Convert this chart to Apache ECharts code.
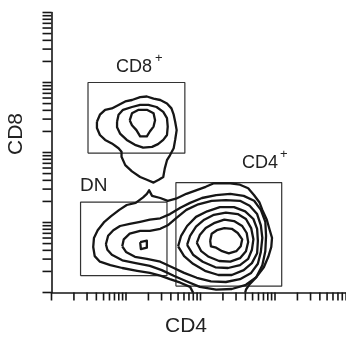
<!DOCTYPE html>
<html>
<head>
<meta charset="utf-8">
<script src="https://cdn.jsdelivr.net/npm/echarts@6/dist/echarts.min.js"></script>
<style>
  html, body { margin: 0; padding: 0; background: #fff; }
  #main { width: 346px; height: 337px; }
</style>
</head>
<body>
<div id="main"></div>
<script>
// axes are log10 of fluorescence (decades 10^0 .. 10^4)
var decades = [0, 1, 2, 3];
var tickMultipliers = [1, 2, 3, 4, 5, 6, 7, 8, 9];

// gates [xMin, xMax, yMin, yMax]
var gateCD8 = [0.49, 1.79, 1.99, 3.0];
var gateDN = [0.39, 1.55, 0.24, 1.29];
var gateCD4 = [1.67, 3.09, 0.09, 1.57];

// CD8+ population contours
var cd8Outer = [[0.61,2.44],[0.65,2.54],[0.72,2.61],[0.81,2.63],[0.90,2.68],[0.99,2.73],[1.08,2.75],[1.19,2.79],[1.28,2.80],[1.37,2.77],[1.46,2.75],[1.55,2.70],[1.61,2.63],[1.64,2.54],[1.66,2.44],[1.68,2.32],[1.66,2.18],[1.64,2.06],[1.59,1.96],[1.55,1.89],[1.52,1.77],[1.50,1.65],[1.44,1.61],[1.37,1.57],[1.28,1.61],[1.19,1.65],[1.08,1.73],[0.99,1.82],[0.94,1.94],[0.94,2.01],[0.90,2.06],[0.81,2.13],[0.72,2.18],[0.65,2.25],[0.61,2.35]];
var cd8Mid = [[0.88,2.44],[0.90,2.54],[0.96,2.61],[1.08,2.65],[1.19,2.68],[1.30,2.68],[1.41,2.65],[1.50,2.58],[1.55,2.49],[1.56,2.37],[1.55,2.25],[1.50,2.18],[1.43,2.12],[1.35,2.08],[1.23,2.07],[1.12,2.11],[1.01,2.18],[0.92,2.27],[0.88,2.36]];
var cd8Inner = [[1.05,2.46],[1.08,2.56],[1.17,2.61],[1.28,2.61],[1.37,2.56],[1.39,2.46],[1.37,2.37],[1.32,2.30],[1.28,2.23],[1.19,2.23],[1.14,2.32],[1.08,2.39]];

// DN + CD4+ populations (outer levels enclose both)
var dnCd4Outer = [[1.90,0],[1.86,0.08],[1.73,0.14],[1.59,0.19],[1.46,0.24],[1.32,0.28],[1.15,0.31],[0.95,0.35],[0.79,0.39],[0.65,0.44],[0.58,0.52],[0.56,0.65],[0.57,0.78],[0.62,0.89],[0.71,1.01],[0.80,1.09],[0.91,1.18],[1.01,1.25],[1.13,1.28],[1.23,1.36],[1.28,1.41],[1.31,1.46],[1.35,1.38],[1.46,1.35],[1.56,1.31],[1.67,1.34],[1.81,1.41],[1.94,1.46],[2.07,1.51],[2.18,1.56],[2.40,1.56],[2.53,1.54],[2.64,1.49],[2.72,1.39],[2.79,1.29],[2.83,1.18],[2.89,1.04],[2.93,0.89],[2.96,0.78],[2.95,0.65],[2.91,0.51],[2.85,0.36],[2.75,0.22],[2.66,0.12],[2.61,0.04],[2.60,0]];
var dnCd4L2 = [[0.73,0.69],[0.76,0.81],[0.83,0.89],[0.92,0.95],[1.05,0.98],[1.19,1.01],[1.32,1.04],[1.46,1.06],[1.59,1.12],[1.73,1.21],[1.86,1.28],[2.02,1.35],[2.21,1.39],[2.40,1.41],[2.58,1.38],[2.72,1.31],[2.81,1.18],[2.87,1.01],[2.88,0.81],[2.87,0.59],[2.83,0.39],[2.75,0.22],[2.61,0.11],[2.42,0.05],[2.21,0.04],[1.99,0.08],[1.81,0.16],[1.64,0.24],[1.48,0.32],[1.32,0.38],[1.13,0.42],[0.95,0.46],[0.81,0.54],[0.75,0.61]];
var dnCd4L3 = [[0.95,0.66],[0.97,0.76],[1.05,0.84],[1.19,0.88],[1.32,0.88],[1.46,0.91],[1.56,0.96],[1.67,1.06],[1.81,1.18],[1.97,1.26],[2.15,1.31],[2.34,1.32],[2.53,1.31],[2.66,1.24],[2.76,1.12],[2.81,0.96],[2.83,0.78],[2.81,0.58],[2.77,0.41],[2.68,0.28],[2.53,0.19],[2.34,0.15],[2.14,0.16],[1.95,0.21],[1.78,0.28],[1.62,0.36],[1.46,0.44],[1.28,0.48],[1.12,0.51],[1.00,0.58]];
var dnPeak = [[1.19,0.72],[1.28,0.74],[1.28,0.64],[1.20,0.62]];
var cd4RingD = [[1.70,0.66],[1.74,0.81],[1.82,0.95],[1.94,1.08],[2.09,1.16],[2.26,1.22],[2.45,1.22],[2.60,1.16],[2.71,1.05],[2.76,0.91],[2.77,0.74],[2.76,0.56],[2.69,0.42],[2.58,0.32],[2.42,0.25],[2.24,0.25],[2.06,0.31],[1.90,0.41],[1.78,0.52]];
var cd4RingC = [[1.82,0.68],[1.86,0.81],[1.94,0.94],[2.05,1.04],[2.18,1.11],[2.34,1.14],[2.50,1.12],[2.61,1.05],[2.68,0.92],[2.71,0.76],[2.69,0.61],[2.64,0.48],[2.53,0.39],[2.37,0.35],[2.20,0.36],[2.03,0.44],[1.90,0.54]];
var cd4RingB = [[1.95,0.71],[1.99,0.82],[2.07,0.92],[2.18,0.99],[2.32,1.04],[2.45,1.02],[2.56,0.95],[2.62,0.85],[2.64,0.72],[2.61,0.59],[2.53,0.49],[2.40,0.44],[2.25,0.45],[2.11,0.51],[2.01,0.59]];
var cd4RingA = [[2.13,0.74],[2.15,0.84],[2.22,0.89],[2.32,0.92],[2.42,0.91],[2.50,0.85],[2.56,0.76],[2.54,0.66],[2.48,0.59],[2.38,0.56],[2.29,0.59],[2.21,0.64],[2.14,0.66]];

var closedContours = [cd8Outer, cd8Mid, cd8Inner, dnCd4L2, dnCd4L3, dnPeak, cd4RingD, cd4RingC, cd4RingB, cd4RingA];
var openContours = [dnCd4Outer];
var gates = [gateCD8, gateDN, gateCD4];

var FONT = '"Liberation Sans", Arial, Helvetica, sans-serif';
var INK = '#161616';

// log tick positions
var tickVals = [];
decades.forEach(function (d) {
    tickMultipliers.forEach(function (m) {
        tickVals.push(d + Math.log10(m));
    });
});
tickVals.push(4);

function close(pts) {
    return pts.concat([pts[0]]);
}
function gateBox(g) {
    return [[g[0], g[2]], [g[1], g[2]], [g[1], g[3]], [g[0], g[3]], [g[0], g[2]]];
}

var series = [];
closedContours.concat(openContours).forEach(function (pts) {
    series.push({
        type: 'line',
        data: openContours.indexOf(pts) >= 0 ? pts : close(pts),
        showSymbol: false,
        symbol: 'none',
        silent: true,
        lineStyle: { color: INK, width: 2.3, join: 'round' },
        z: 3
    });
});
gates.forEach(function (g) {
    series.push({
        type: 'line',
        data: gateBox(g),
        showSymbol: false,
        symbol: 'none',
        silent: true,
        lineStyle: { color: '#333', width: 1.2 },
        z: 2
    });
});

// x ticks (below axis)
series.push({
    type: 'custom',
    clip: false,
    silent: true,
    data: tickVals.map(function (v) { return [v, 0]; }),
    encode: { x: 0, y: 1 },
    renderItem: function (params, api) {
        var p = api.coord([api.value(0), 0]);
        return {
            type: 'line',
            shape: { x1: p[0], y1: p[1], x2: p[0], y2: p[1] + 8 },
            style: { stroke: INK, lineWidth: 1.6 }
        };
    }
});
// y ticks (left of axis)
series.push({
    type: 'custom',
    clip: false,
    silent: true,
    data: tickVals.map(function (v) { return [0, v]; }),
    encode: { x: 0, y: 1 },
    renderItem: function (params, api) {
        var p = api.coord([0, api.value(1)]);
        return {
            type: 'line',
            shape: { x1: p[0], y1: p[1], x2: p[0] - 9, y2: p[1] },
            style: { stroke: INK, lineWidth: 1.6 }
        };
    }
});

var chart = echarts.init(document.getElementById('main'), null, { renderer: 'canvas' });
chart.setOption({
    animation: false,
    backgroundColor: '#fff',
    grid: { left: 51.5, top: 12.5, width: 298, height: 280, containLabel: false, outerBoundsMode: 'none' },
    xAxis: {
        type: 'value', min: 0, max: 4,
        axisLine: { show: true, lineStyle: { color: INK, width: 1.6 } },
        axisTick: { show: false }, axisLabel: { show: false }, splitLine: { show: false }
    },
    yAxis: {
        type: 'value', min: 0, max: 4,
        axisLine: { show: true, lineStyle: { color: INK, width: 1.6 } },
        axisTick: { show: false }, axisLabel: { show: false }, splitLine: { show: false }
    },
    graphic: [
        { type: 'text', left: 165, top: 316, style: { text: 'CD4', font: '21px ' + FONT, fill: '#222' } },
        { type: 'text', x: 6, y: 155, rotation: Math.PI / 2, style: { text: 'CD8', font: '21px ' + FONT, fill: '#222' } },
        { type: 'text', left: 116, top: 58, style: { text: 'CD8', font: '18px ' + FONT, fill: '#222' } },
        { type: 'text', left: 155, top: 52, style: { text: '+', font: '13px ' + FONT, fill: '#222' } },
        { type: 'text', left: 80, top: 176, style: { text: 'DN', font: '19px ' + FONT, fill: '#222' } },
        { type: 'text', left: 242, top: 154, style: { text: 'CD4', font: '18px ' + FONT, fill: '#222' } },
        { type: 'text', left: 280, top: 148, style: { text: '+', font: '13px ' + FONT, fill: '#222' } }
    ],
    series: series
});
</script>
</body>
</html>
